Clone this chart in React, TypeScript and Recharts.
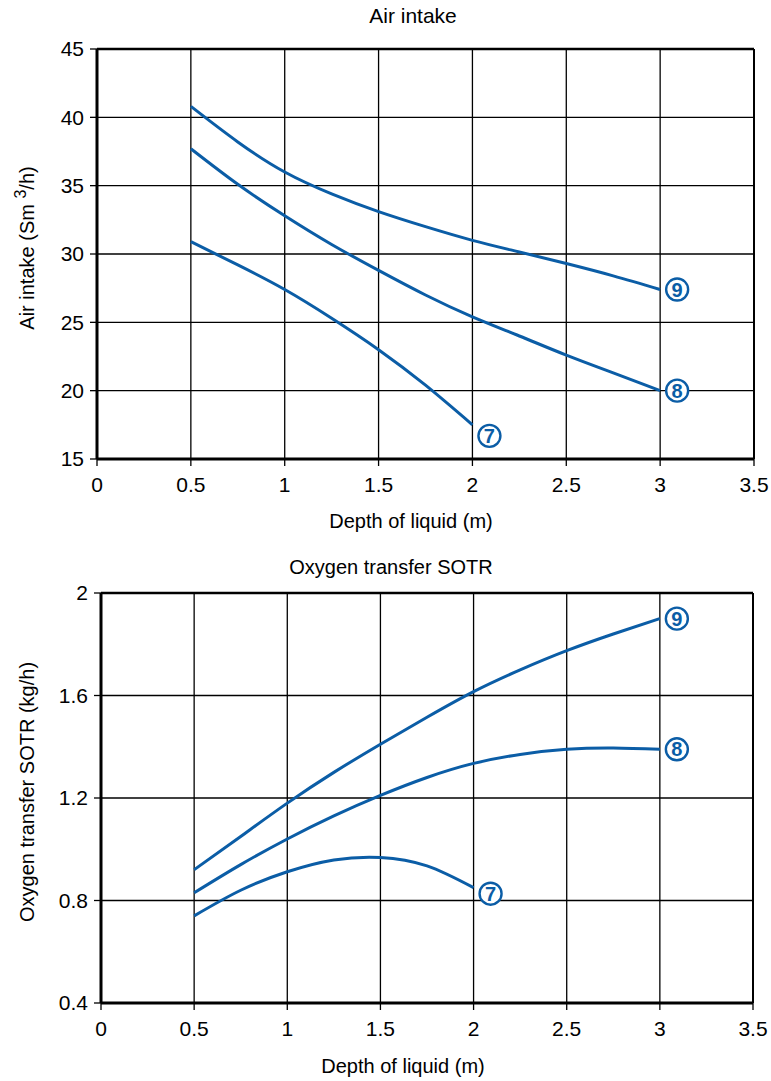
import { CartesianGrid, Line, LineChart, ReferenceLine, XAxis, YAxis } from "recharts";

const depth = [0.5, 0.75, 1, 1.25, 1.5, 1.75, 2, 2.25, 2.5, 2.75, 3];
const xTicks = [0, 0.5, 1, 1.5, 2, 2.5, 3, 3.5];

// air intake (Sm3/h)
const air9 = [40.8, 38.2, 36.0, 34.4, 33.1, 32.0, 31.0, 30.15, 29.3, 28.4, 27.4];
const air8 = [37.7, 35.1, 32.8, 30.7, 28.8, 27.0, 25.4, 24.0, 22.6, 21.3, 20.0];
const air7 = [30.9, 29.2, 27.4, 25.3, 23.0, 20.4, 17.5];
const airTicks = [15, 20, 25, 30, 35, 40, 45];

// oxygen transfer SOTR (kg/h)
const oxy9 = [0.92, 1.05, 1.18, 1.3, 1.41, 1.515, 1.615, 1.7, 1.775, 1.84, 1.9];
const oxy8 = [0.83, 0.94, 1.04, 1.13, 1.21, 1.28, 1.335, 1.37, 1.39, 1.395, 1.39];
const oxy7 = [0.74, 0.84, 0.912, 0.958, 0.968, 0.935, 0.85];
const oxyTicks = [0.4, 0.8, 1.2, 1.6, 2];

const BLUE = "#0b5da6";
const FONT = "'Liberation Sans', Arial, Helvetica, sans-serif";
const tickStyle = { fill: "#000", fontSize: 21, fontFamily: FONT };

const airRows = depth.map((d, i) => ({ depth: d, s9: air9[i], s8: air8[i], s7: air7[i] }));
const oxyRows = depth.map((d, i) => ({ depth: d, s9: oxy9[i], s8: oxy8[i], s7: oxy7[i] }));

// circled curve number drawn at the last point of a series
function endBadge(label: string, count: number, dx: number, dy: number) {
  return (p: any) => {
    if (p.index !== count - 1 || p.cy == null) return <g key={`d-${label}-${p.index}`} />;
    const cx = p.cx + dx;
    const cy = p.cy + dy;
    return (
      <g key={`d-${label}-${p.index}`}>
        <circle cx={cx} cy={cy} r={11} fill="#fff" stroke={BLUE} strokeWidth={2.4} />
        <text x={cx} y={cy + 7} textAnchor="middle" fontFamily={FONT} fontWeight="bold" fontSize={20} fill={BLUE}>
          {label}
        </text>
      </g>
    );
  };
}

function Panel({ rows, yTicks, yDomain, yWidth, top, height, marginTop, marginRight, xAxisHeight, ylabel, ylabelY, xlabelX, xlabelY, badge7dy, yFormat }: any) {
  return (
    <div style={{ position: "absolute", left: 0, top, width: 771, height }}>
      <LineChart width={771} height={height} data={rows} margin={{ top: marginTop, right: marginRight, left: 0, bottom: 0 }}>
        <CartesianGrid stroke="#000" strokeWidth={1.3} strokeOpacity={1} />
        <XAxis
          type="number"
          dataKey="depth"
          domain={[0, 3.5]}
          ticks={xTicks}
          height={xAxisHeight}
          tick={tickStyle}
          tickSize={7}
          tickMargin={11}
          tickLine={{ stroke: "#000", strokeWidth: 1.3 }}
          axisLine={{ stroke: "#000", strokeWidth: 3 }}
          label={{
            content: () => (
              <text x={xlabelX} y={xlabelY} textAnchor="middle" fontFamily={FONT} fontSize={20} fill="#000">
                Depth of liquid (m)
              </text>
            ),
          }}
        />
        <YAxis
          type="number"
          domain={yDomain}
          ticks={yTicks}
          width={yWidth}
          interval={0}
          tick={tickStyle}
          tickFormatter={yFormat}
          tickSize={7}
          tickMargin={6}
          tickLine={{ stroke: "#000", strokeWidth: 1.3 }}
          axisLine={{ stroke: "#000", strokeWidth: 3 }}
          label={{ content: () => ylabel(ylabelY) }}
        />
        <ReferenceLine y={yDomain[1]} stroke="#000" strokeWidth={2.5} />
        <ReferenceLine x={3.5} stroke="#000" strokeWidth={2} />
        <Line dataKey="s9" type="natural" stroke={BLUE} strokeWidth={3} isAnimationActive={false} activeDot={false} dot={endBadge("9", 11, 17, 0)} />
        <Line dataKey="s8" type="natural" stroke={BLUE} strokeWidth={3} isAnimationActive={false} activeDot={false} dot={endBadge("8", 11, 17, 0)} />
        <Line dataKey="s7" type="natural" stroke={BLUE} strokeWidth={3} isAnimationActive={false} activeDot={false} dot={endBadge("7", 7, 17, badge7dy)} />
      </LineChart>
    </div>
  );
}

const airLabel = (cy: number) => (
  <text transform={`translate(34, ${cy}) rotate(-90)`} textAnchor="middle" fontFamily={FONT} fontSize={20} fill="#000">
    Air intake (Sm <tspan dy={-8} fontSize={16}>3</tspan>
    <tspan dy={8}>/h)</tspan>
  </text>
);

const oxyLabel = (cy: number) => (
  <text transform={`translate(34, ${cy}) rotate(-90)`} textAnchor="middle" fontFamily={FONT} fontSize={20} fill="#000">
    Oxygen transfer SOTR (kg/h)
  </text>
);

export default function App() {
  return (
    <div style={{ position: "absolute", left: 0, top: 0, width: 771, height: 1081, background: "#fff", fontFamily: FONT }}>
      <div style={{ position: "absolute", left: 0, top: 4, width: 826, textAlign: "center", fontSize: 21, color: "#000" }}>Air intake</div>
      <Panel
        rows={airRows}
        yTicks={airTicks}
        yDomain={[15, 45]}
        yWidth={97}
        top={0}
        height={540}
        marginTop={49}
        marginRight={17}
        xAxisHeight={81}
        ylabel={airLabel}
        ylabelY={248}
        xlabelX={411}
        xlabelY={528}
        badge7dy={11}
      />
      <div style={{ position: "absolute", left: 0, top: 556, width: 782, textAlign: "center", fontSize: 20, color: "#000", zIndex: 1 }}>
        Oxygen transfer SOTR
      </div>
      <Panel
        rows={oxyRows}
        yTicks={oxyTicks}
        yDomain={[0.4, 2]}
        yWidth={101}
        top={540}
        height={541}
        marginTop={53}
        marginRight={18}
        xAxisHeight={78}
        ylabel={oxyLabel}
        ylabelY={252}
        xlabelX={403}
        xlabelY={533}
        badge7dy={6}
        yFormat={(v: number) => String(v)}
      />
    </div>
  );
}
